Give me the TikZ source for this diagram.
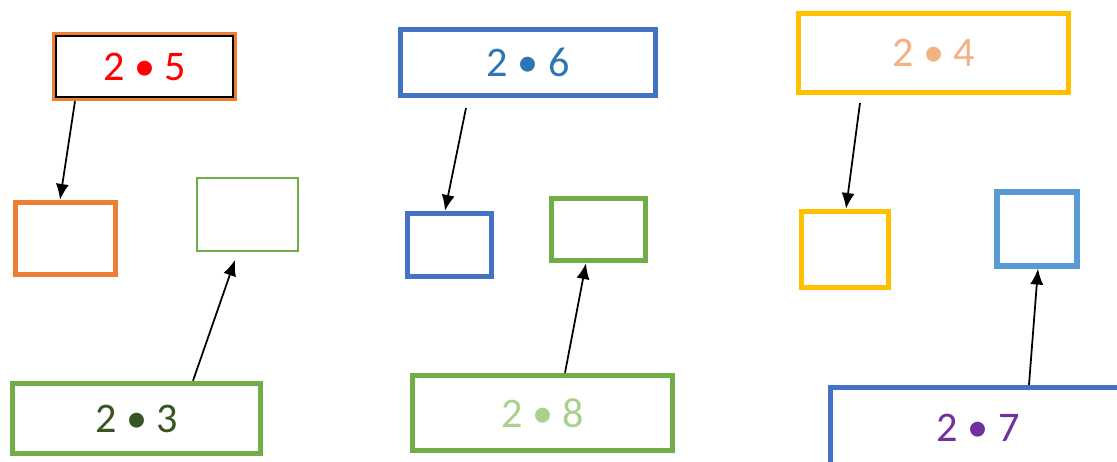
\documentclass[tikz,border=0pt]{standalone}
\usepackage{fontspec}
\setmainfont{Carlito}
\usetikzlibrary{arrows,arrows.meta,positioning}
\definecolor{boxorange}{HTML}{ED7D31}
\definecolor{boxgreen}{HTML}{70AD47}
\definecolor{boxblue}{HTML}{4472C4}
\definecolor{boxgold}{HTML}{FFC000}
\definecolor{boxsky}{HTML}{5B9BD5}
\definecolor{txtred}{HTML}{FF0000}
\definecolor{txtdkgreen}{HTML}{375623}
\definecolor{txtblue}{HTML}{2E75B6}
\definecolor{txtpeach}{HTML}{F4B183}
\definecolor{txtltgreen}{HTML}{A9D18E}
\definecolor{txtpurple}{HTML}{7030A0}
\begin{document}
\begin{tikzpicture}[x=0.02cm,y=-0.02cm,align=center]
\tikzstyle{prodbox}=[rectangle,draw,line width=3.1pt,inner sep=0pt,font=\fontsize{24pt}{28pt}\selectfont]
\tikzstyle{emptybox}=[rectangle,draw,line width=3.1pt,inner sep=0pt]
\tikzstyle{arr}=[-{Latex[length=9pt,width=7.5pt]},line width=1pt,black]

\useasboundingbox (0,0) rectangle (1117,461);
\clip (0,0) rectangle (1117,461);

% left group
\node[prodbox,draw=boxorange,text=txtred,minimum width=3.6cm,minimum height=1.28cm] (b25) at (144.5,66.5) {2 • 5};
\draw[black,line width=1.1pt] ([xshift=2.3pt,yshift=2.3pt]b25.south west) rectangle ([xshift=-2.3pt,yshift=-2.3pt]b25.north east);
\node[emptybox,draw=boxorange,minimum width=2cm,minimum height=1.44cm] (s25) at (65.5,238.5) {};
\node[emptybox,draw=boxgreen,line width=1.1pt,minimum width=2.02cm,minimum height=1.46cm] (s23) at (247.5,214.5) {};
\node[prodbox,draw=boxgreen,text=txtdkgreen,minimum width=4.96cm,minimum height=1.4cm] (b23) at (136.5,418.5) {2 • 3};

% middle group
\node[prodbox,draw=boxblue,text=txtblue,minimum width=5.1cm,minimum height=1.32cm] (b26) at (528,62.5) {2 • 6};
\node[emptybox,draw=boxblue,minimum width=1.68cm,minimum height=1.26cm] (s26) at (449.5,245) {};
\node[emptybox,draw=boxgreen,minimum width=1.88cm,minimum height=1.24cm] (s28) at (598.5,229.5) {};
\node[prodbox,draw=boxgreen,text=txtltgreen,minimum width=5.2cm,minimum height=1.5cm] (b28) at (542.5,413) {2 • 8};

% right group
\node[prodbox,draw=boxgold,text=txtpeach,minimum width=5.4cm,minimum height=1.58cm] (b24) at (933.5,53) {2 • 4};
\node[emptybox,draw=boxgold,minimum width=1.74cm,minimum height=1.52cm] (s24) at (845,249.5) {};
\node[emptybox,draw=boxsky,minimum width=1.6cm,minimum height=1.48cm] (s27) at (1037,229) {};
\node[prodbox,draw=boxblue,text=txtpurple,minimum width=5.9cm,minimum height=1.62cm] (b27) at (978,428) {2 • 7};

% arrows
\coordinate (t23) at (235,260);
\coordinate (f26) at (466,108);
\coordinate (f24) at (860,103);
\draw[arr] (b25.south -| 75,0) -- (s25.north -| 60,0);
\draw[arr] (b23.north -| 193,0) -- (t23);
\draw[arr] (f26) -- (s26.north -| 445,0);
\draw[arr] (b28.north -| 565,0) -- (s28.south -| 586,0);
\draw[arr] (f24) -- (s24.north -| 846,0);
\draw[arr] (b27.north -| 1029,0) -- (s27.south -| 1038,0);
\end{tikzpicture}
\end{document}
